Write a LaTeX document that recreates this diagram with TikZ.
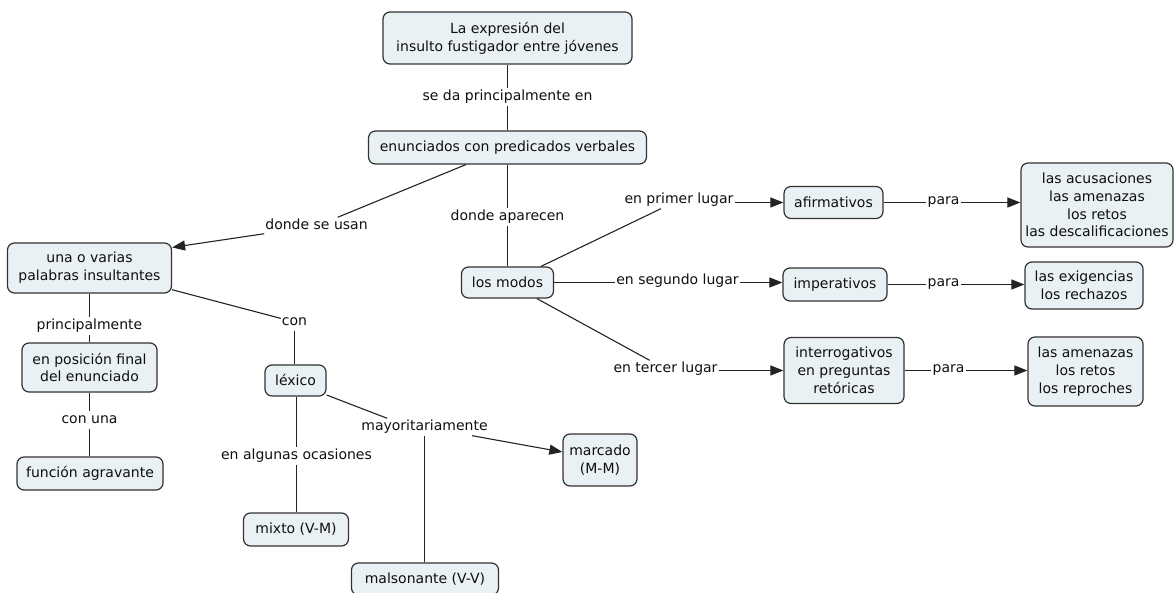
\documentclass[tikz,border=0pt]{standalone}
\usepackage{fontspec}
\setmainfont{DejaVu Sans}
\usetikzlibrary{arrows.meta,calc}
\definecolor{boxfill}{RGB}{234,241,244}
\definecolor{boxline}{RGB}{50,50,50}
\definecolor{linkline}{RGB}{35,35,35}
\definecolor{txt}{RGB}{15,15,15}
\begin{document}
\begin{tikzpicture}[x=1pt,y=-1pt,
  concept/.style={draw=boxline, line width=1.2pt, fill=boxfill, rounded corners=7pt,
    inner sep=0pt, align=center, text=txt, font=\fontsize{14}{17.8}\selectfont},
  linklabel/.style={inner xsep=1pt, inner ysep=2pt, text height=10pt, text depth=3pt,
    text=txt, font=\fontsize{14}{17}\selectfont},
  conn/.style={draw=linkline, line width=1.1pt},
  arr/.style={conn, -{Triangle[length=13pt,width=10pt]}},
]
\useasboundingbox (0,0) rectangle (1175,593);
% concepts
\node[concept, minimum width=249pt, minimum height=52pt] (top) at (507.5,38) {La expresión del\\insulto fustigador entre jóvenes};
\node[concept, minimum width=278pt, minimum height=33pt] (enun) at (507.5,147.5) {enunciados con predicados verbales};
\node[concept, minimum width=164pt, minimum height=50pt] (una) at (89.5,268) {una o varias\\palabras insultantes};
\node[concept, minimum width=135pt, minimum height=49pt] (pos) at (89.5,367.5) {en posición final\\del enunciado};
\node[concept, minimum width=146pt, minimum height=33pt] (func) at (90,473.5) {función agravante};
\node[concept, minimum width=61pt, minimum height=31pt] (lex) at (295.5,380.5) {léxico};
\node[concept, minimum width=105pt, minimum height=33pt] (mixto) at (296,529.5) {mixto (V-M)};
\node[concept, minimum width=147pt, minimum height=32pt] (mals) at (425,579) {malsonante (V-V)};
\node[concept, minimum width=74pt, minimum height=52pt] (marc) at (600,460) {marcado\\(M-M)};
\node[concept, minimum width=92pt, minimum height=31pt] (modos) at (507.5,282.5) {los modos};
\node[concept, minimum width=99pt, minimum height=32pt] (afirm) at (833.5,202.5) {afirmativos};
\node[concept, minimum width=104pt, minimum height=33pt] (imper) at (835,284.5) {imperativos};
\node[concept, minimum width=120pt, minimum height=66pt] (inter) at (844,370.5) {interrogativos\\en preguntas\\retóricas};
\node[concept, minimum width=152pt, minimum height=84pt] (acus) at (1097,205) {las acusaciones\\las amenazas\\los retos\\las descalificaciones};
\node[concept, minimum width=118pt, minimum height=47pt] (exig) at (1084,285.5) {las exigencias\\los rechazos};
\node[concept, minimum width=115pt, minimum height=69pt] (amen) at (1085.5,371.5) {las amenazas\\los retos\\los reproches};
% linking phrases
\node[linklabel] (seda) at (507.5,97) {se da principalmente en};
\node[linklabel] (dsu) at (316.5,226) {donde se usan};
\node[linklabel] (dap) at (507.5,217) {donde aparecen};
\node[linklabel] (pl1) at (679,200) {en primer lugar};
\node[linklabel] (pl2) at (677.5,281.5) {en segundo lugar};
\node[linklabel] (pl3) at (665.5,369) {en tercer lugar};
\node[linklabel] (para1) at (943.5,201) {para};
\node[linklabel] (para2) at (943.5,283) {para};
\node[linklabel] (para3) at (948.5,369) {para};
\node[linklabel] (princ) at (89.5,326) {principalmente};
\node[linklabel] (conuna) at (89.5,420) {con una};
\node[linklabel] (con) at (294.5,322) {con};
\node[linklabel] (ealg) at (296.5,456) {en algunas ocasiones};
\node[linklabel] (may) at (424.5,427) {mayoritariamente};
% connectors
\draw[conn] (top) -- (seda);
\draw[conn] (seda) -- (enun);
\draw[conn] (enun) -- (dsu);
\draw[arr] (dsu) -- (una.14);
\draw[conn] (enun) -- (dap);
\draw[conn] (dap) -- (modos);
\draw[conn] (modos) -- (pl1);
\draw[arr] (pl1.east |- afirm.west) -- (afirm.west);
\draw[conn] (modos.east) -- (pl2.west |- modos.east);
\draw[arr] (pl2.east |- modos.east) -- (imper.west |- modos.east);
\draw[conn] (modos) -- (pl3);
\draw[arr] (pl3.east |- inter.west) -- (inter.west);
\draw[conn] (afirm.east) -- (para1.west |- afirm.east);
\draw[arr] (para1.east |- afirm.east) -- (acus.west |- afirm.east);
\draw[conn] (imper.east) -- (para2.west |- imper.east);
\draw[arr] (para2.east |- imper.east) -- (exig.west |- imper.east);
\draw[conn] (inter.east) -- (para3.west |- inter.east);
\draw[arr] (para3.east |- inter.east) -- (amen.west |- inter.east);
\draw[conn] (una) -- (princ);
\draw[conn] (princ) -- (pos);
\draw[conn] (pos) -- (conuna);
\draw[conn] (conuna) -- (conuna |- func.north);
\draw[conn] (una) -- (con);
\draw[conn] (con) -- (con |- lex.north);
\draw[conn] (lex.south -| ealg) -- (ealg);
\draw[conn] (ealg) -- (ealg |- mixto.north);
\draw[conn] (lex.-25) -- ($(may.north west)!0.21!(may.north east)$);
\draw[arr] ($(may.south west)!0.87!(may.south east)$) -- (marc.168);
\draw[conn] (may) -- (may |- mals.north);
\end{tikzpicture}
\end{document}
